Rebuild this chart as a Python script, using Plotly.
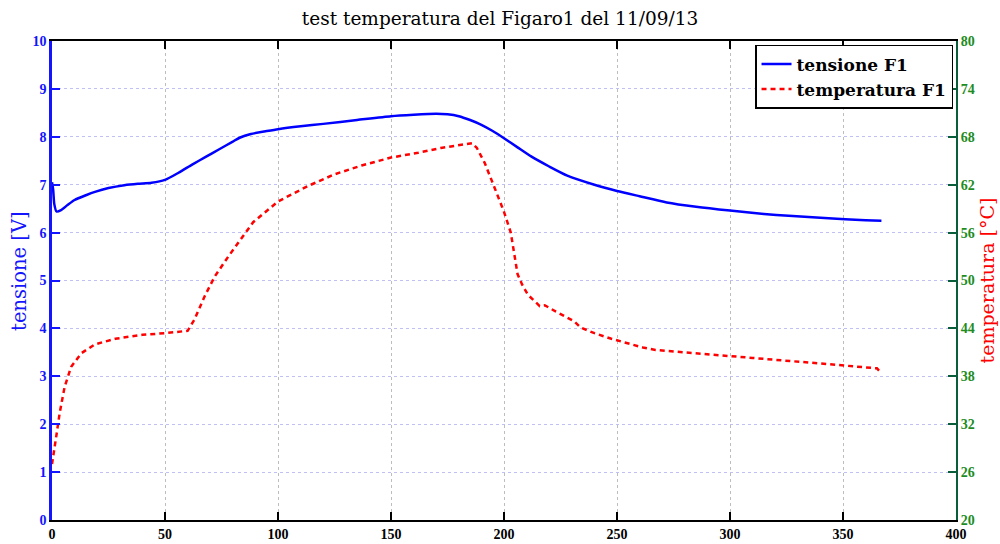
import plotly.graph_objects as go

# tensione F1 [V] vs time
t_tens = [0, 0.5, 1, 2, 4, 7, 10, 15, 19, 25, 32, 38, 44, 50, 56, 62, 68, 74, 80, 83,
          88, 95, 100, 110, 120, 135, 150, 160, 170, 175, 180, 185, 190, 195, 200, 206,
          212, 220, 228, 240, 250, 260, 272, 285, 300, 315, 326, 340, 351, 360, 367]
tensione = [7.05, 6.9, 6.6, 6.44, 6.47, 6.58, 6.68, 6.78, 6.85, 6.93, 6.99, 7.02, 7.04,
            7.10, 7.25, 7.42, 7.58, 7.74, 7.90, 7.98, 8.06, 8.12, 8.16, 8.22, 8.27, 8.35,
            8.43, 8.46, 8.48, 8.47, 8.43, 8.35, 8.25, 8.12, 7.97, 7.78, 7.59, 7.38, 7.19,
            7.0, 6.87, 6.76, 6.63, 6.54, 6.46, 6.39, 6.35, 6.31, 6.28, 6.26, 6.25]

# temperatura F1 [°C] vs time
t_temp = [0, 0.5, 1.9, 3.4, 5.6, 8.5, 13, 19, 28, 40, 50, 60, 63, 67.5, 72, 78, 84, 89,
          100, 113, 125, 137, 150, 162, 172, 180, 186, 188, 191.5, 196, 200, 203, 204.5,
          206, 208, 210.6, 215.8, 218, 223, 228, 231, 234, 240, 247.5, 251, 261.5, 267,
          287, 310, 340, 362.5, 365, 367]
temperatura = [27.0, 27.8, 30.5, 33.4, 36.7, 39.2, 40.9, 42.0, 42.7, 43.2, 43.4, 43.7,
               45.1, 48.0, 50.5, 53.0, 55.3, 57.3, 59.9, 61.8, 63.3, 64.4, 65.4, 66.0,
               66.6, 66.9, 67.2, 66.6, 64.7, 61.5, 58.6, 56.0, 53.4, 50.8, 49.5, 48.2,
               46.8, 46.9, 46.1, 45.3, 44.9, 44.1, 43.4, 42.7, 42.4, 41.6, 41.3, 40.8,
               40.3, 39.6, 39.1, 39.0, 38.4]

x_ticks = [0, 50, 100, 150, 200, 250, 300, 350, 400]
y_left_ticks = list(range(0, 11))
y_right_ticks = [20, 26, 32, 38, 44, 50, 56, 62, 68, 74, 80]

SERIF = "Liberation Serif"
WIDE_SERIF = "DejaVu Serif"
BLUE = "#1414ff"
GREEN = "#1e8c1e"
AXIS2 = "#0b5e3c"

fig = go.Figure()
fig.add_trace(go.Scatter(
    x=t_tens, y=tensione, mode="lines", name="tensione F1",
    line=dict(color="#0000ff", width=2.5, shape="spline", smoothing=0.6),
    yaxis="y"))
fig.add_trace(go.Scatter(
    x=t_temp, y=temperatura, mode="lines", name="temperatura F1",
    line=dict(color="#ff0000", width=2.5, dash="5px,4px"),
    yaxis="y2"))

# axis titles placed beside the plot area
fig.add_annotation(text="tensione [V]", x=0, xref="paper", xanchor="center",
                   xshift=-32, y=0.52, yref="paper", yanchor="middle",
                   textangle=-90, showarrow=False,
                   font=dict(family=WIDE_SERIF, size=19.5, color=BLUE))
fig.add_annotation(text="temperatura [°C]", x=1, xref="paper", xanchor="center",
                   xshift=30, y=0.5, yref="paper", yanchor="middle",
                   textangle=-90, showarrow=False,
                   font=dict(family=WIDE_SERIF, size=19, color="#ff0000"))

fig.update_layout(
    width=1000, height=544,
    margin=dict(l=52, r=44, t=41, b=24, autoexpand=False),
    paper_bgcolor="white", plot_bgcolor="white",
    font=dict(family=SERIF),
    title=dict(text="test temperatura del Figaro1 del 11/09/13",
               x=0.5, xanchor="center", y=0.966, yanchor="middle",
               font=dict(family=WIDE_SERIF, size=18.5, color="black")),
    xaxis=dict(range=[0, 400], tickvals=x_ticks, ticks="inside", ticklen=8,
               tickcolor="black", tickwidth=1.5, automargin=False,
               showline=True, linecolor="black", linewidth=2, mirror="ticks",
               showgrid=True, gridcolor="#bdbdbd", griddash="dot", gridwidth=1,
               zeroline=False,
               tickfont=dict(family=SERIF, size=14, color="black", weight="bold")),
    yaxis=dict(range=[0, 10], tickvals=y_left_ticks, ticks="inside", ticklen=8,
               tickcolor=BLUE, tickwidth=1.5, automargin=False,
               showline=True, linecolor=BLUE, linewidth=2.5,
               showgrid=True, gridcolor="#c0c0f4", griddash="dot", gridwidth=1,
               zeroline=False,
               tickfont=dict(family=SERIF, size=14, color=BLUE, weight="bold")),
    yaxis2=dict(range=[20, 80], tickvals=y_right_ticks, overlaying="y", side="right",
                ticks="inside", ticklen=8, tickcolor=AXIS2, tickwidth=1.5,
                automargin=False,
                showline=True, linecolor=AXIS2, linewidth=2,
                showgrid=False, zeroline=False,
                tickfont=dict(family=SERIF, size=14, color=GREEN, weight="bold")),
    legend=dict(x=0.9967, y=0.992, xanchor="right", yanchor="top",
                bgcolor="white", bordercolor="black", borderwidth=1.5,
                itemwidth=30, tracegroupgap=0,
                font=dict(family=WIDE_SERIF, size=17, color="black", weight="bold")),
    showlegend=True,
)

fig.write_html("out.html")
